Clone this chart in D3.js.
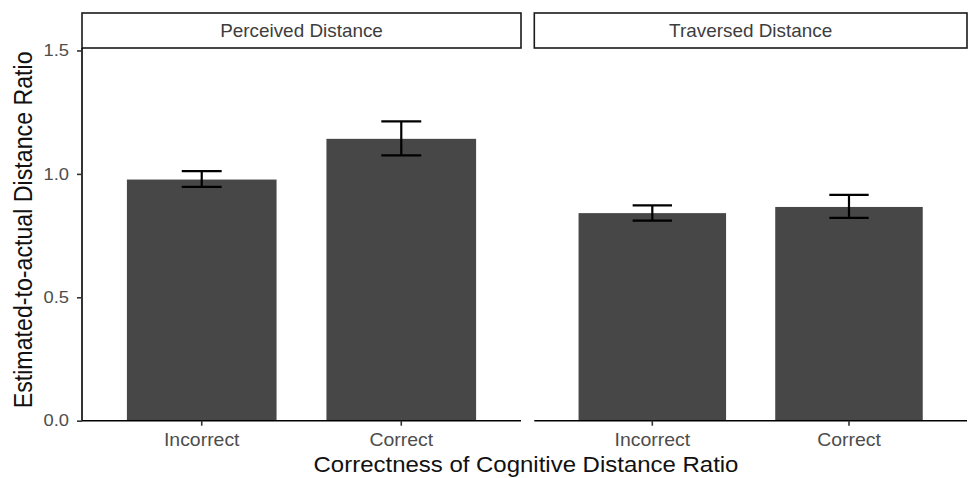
<!DOCTYPE html>
<html>
<head>
<meta charset="utf-8">
<script src="https://cdn.jsdelivr.net/npm/d3@7"></script>
<style>
  html, body { margin: 0; padding: 0; background: #fff; }
  svg { display: block; font-family: "Liberation Sans", Arial, Helvetica, sans-serif; }
</style>
</head>
<body>
<svg id="chart" width="971" height="478"></svg>
<script>
// Facets, categories and summary values (mean with error bar limits)
const facets = ["Perceived Distance", "Traversed Distance"];
const categories = ["Incorrect", "Correct"];
const perceivedMean  = [0.977, 1.142];
const perceivedLower = [0.947, 1.075];
const perceivedUpper = [1.011, 1.213];
const traversedMean  = [0.841, 0.866];
const traversedLower = [0.811, 0.822];
const traversedUpper = [0.872, 0.915];
const yTicks = [0, 0.5, 1.0, 1.5];

const seriesByFacet = [
  { mean: perceivedMean, lower: perceivedLower, upper: perceivedUpper },
  { mean: traversedMean, lower: traversedLower, upper: traversedUpper }
];

const svg = d3.select("#chart");
const sx = 1.08; // horizontal glyph stretch

const panelTop = 48, panelBottom = 420.7;
const stripTop = 13;
const panels = [[82, 521], [534.3, 967]];

const y = d3.scaleLinear().domain([0, 1.51]).range([panelBottom, panelTop]);

function stretchedText(g, x, yPos, txt) {
  return g.append("text")
    .attr("transform", `translate(${x},${yPos}) scale(${sx},1)`)
    .text(txt);
}

facets.forEach((name, i) => {
  const [x0, x1] = panels[i];
  const x = d3.scaleBand().domain(categories).range([x0, x1])
    .paddingInner(0.25).paddingOuter(0.225);
  const s = seriesByFacet[i];
  const rows = categories.map((c, k) => ({ c, m: s.mean[k], lo: s.lower[k], hi: s.upper[k] }));
  const g = svg.append("g");

  // bars
  g.selectAll("rect.bar").data(rows).join("rect")
    .attr("class", "bar")
    .attr("x", d => x(d.c))
    .attr("width", x.bandwidth())
    .attr("y", d => y(d.m))
    .attr("height", d => y(0) - y(d.m))
    .attr("fill", "#474747");

  // error bars
  const capHalf = x.step() * 0.1;
  const cx = d => x(d.c) + x.bandwidth() / 2;
  const eb = g.selectAll("g.eb").data(rows).join("g").attr("class", "eb")
    .attr("stroke", "#000").attr("stroke-width", 2.2).attr("fill", "none");
  eb.append("line")
    .attr("x1", cx).attr("x2", cx)
    .attr("y1", d => y(d.lo)).attr("y2", d => y(d.hi));
  eb.append("line")
    .attr("x1", d => cx(d) - capHalf).attr("x2", d => cx(d) + capHalf)
    .attr("y1", d => y(d.hi)).attr("y2", d => y(d.hi));
  eb.append("line")
    .attr("x1", d => cx(d) - capHalf).attr("x2", d => cx(d) + capHalf)
    .attr("y1", d => y(d.lo)).attr("y2", d => y(d.lo));

  // x axis
  const xAxis = g.append("g").attr("transform", `translate(0,${panelBottom})`)
    .call(d3.axisBottom(x).tickSize(5).tickSizeOuter(0).tickPadding(0).tickFormat(""));
  xAxis.select(".domain").attr("stroke", "#000").attr("stroke-width", 1.6)
    .attr("d", `M${x0},0H${x1}`);
  xAxis.selectAll(".tick line").attr("stroke", "#333").attr("stroke-width", 1.6);
  categories.forEach(c => {
    stretchedText(g, x(c) + x.bandwidth() / 2, 446, c)
      .attr("text-anchor", "middle").attr("font-size", 18).attr("fill", "#4d4d4d");
  });

  // strip
  g.append("rect")
    .attr("x", x0).attr("y", stripTop).attr("width", x1 - x0).attr("height", panelTop - stripTop)
    .attr("fill", "#fff").attr("stroke", "#1a1a1a").attr("stroke-width", 1.6);
  stretchedText(g, (x0 + x1) / 2, 37, name)
    .attr("text-anchor", "middle").attr("font-size", 17.5).attr("fill", "#3d3d3d");

  // y axis only on the first panel
  if (i === 0) {
    const yAxis = g.append("g").attr("transform", `translate(${x0},0)`)
      .call(d3.axisLeft(y).tickValues(yTicks).tickSize(5).tickSizeOuter(0).tickFormat(""));
    yAxis.select(".domain").attr("stroke", "#000").attr("stroke-width", 1.6)
      .attr("d", `M0,${panelTop}V${panelBottom}`);
    yAxis.selectAll(".tick line").attr("stroke", "#333").attr("stroke-width", 1.6);
    yTicks.forEach(t => {
      stretchedText(g, x0 - 13, y(t), d3.format(".1f")(t))
        .attr("text-anchor", "end").attr("dominant-baseline", "central")
        .attr("font-size", 17).attr("fill", "#4d4d4d");
    });
  }
});

// axis titles
stretchedText(svg, (panels[0][0] + panels[1][1]) / 2 + 1.5, 471.5, "Correctness of Cognitive Distance Ratio")
  .attr("text-anchor", "middle").attr("font-size", 22.2).attr("fill", "#111");

svg.append("text")
  .attr("transform", `translate(32,${(panelTop + panelBottom) / 2 - 4.5}) scale(${sx},1) rotate(-90)`)
  .attr("text-anchor", "middle").attr("font-size", 23.2).attr("fill", "#111")
  .text("Estimated-to-actual Distance Ratio");
</script>
</body>
</html>
